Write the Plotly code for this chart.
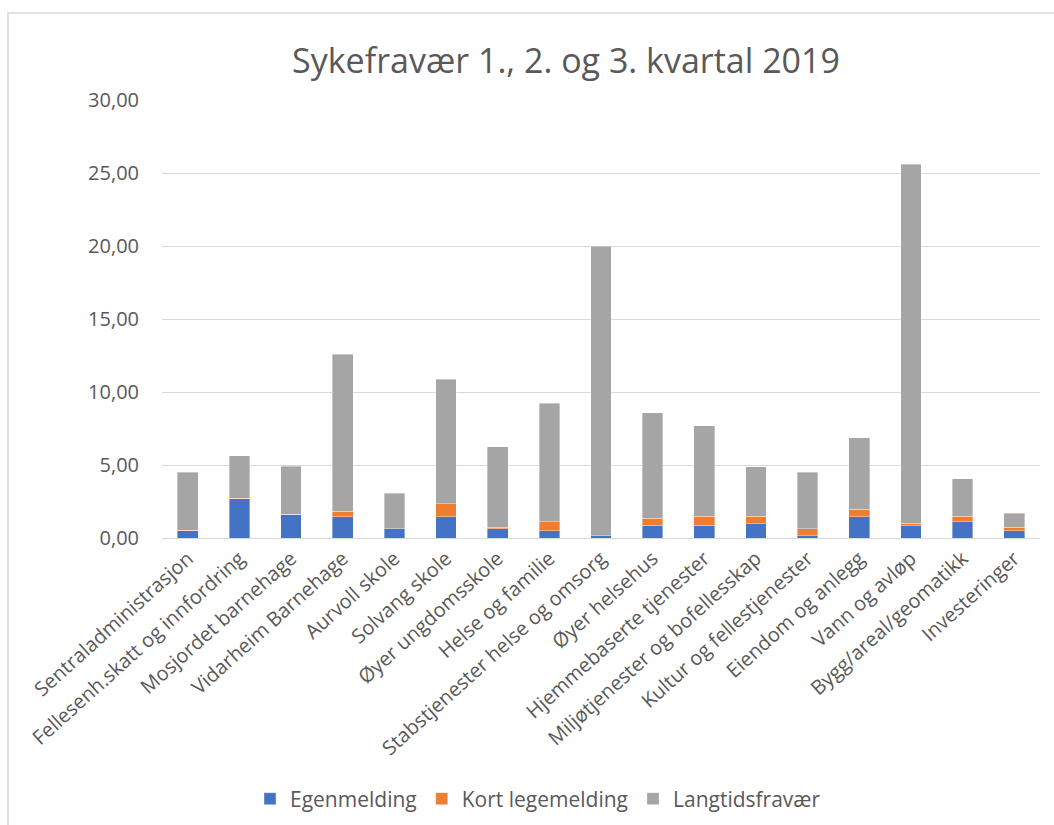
import plotly.graph_objects as go

categories = [
    "Sentraladministrasjon", "Fellesenh.skatt og innfordring", "Mosjordet barnehage",
    "Vidarheim Barnehage", "Aurvoll skole", "Solvang skole", "Øyer ungdomsskole",
    "Helse og familie", "Stabstjenester helse og omsorg", "Øyer helsehus",
    "Hjemmebaserte tjenester", "Miljøtjenester og bofellesskap", "Kultur og fellestjenester",
    "Eiendom og anlegg", "Vann og avløp", "Bygg/areal/geomatikk", "Investeringer",
]
egenmelding = [0.50, 2.69, 1.62, 1.46, 0.62, 1.46, 0.62, 0.50, 0.14, 0.87, 0.87, 0.98, 0.14, 1.46, 0.84, 1.10, 0.48]
kort_legemelding = [0.02, 0.02, 0.02, 0.37, 0.02, 0.87, 0.11, 0.62, 0.03, 0.48, 0.61, 0.50, 0.48, 0.50, 0.16, 0.38, 0.25]
langtidsfravaer = [4.00, 2.93, 3.27, 10.77, 2.42, 8.56, 5.52, 8.10, 19.83, 7.23, 6.21, 3.41, 3.90, 4.89, 24.60, 2.58, 0.98]

W, H = 1054, 825
L, R, T, B = 162, 14, 100, 287
pw, ph = W - L - R, H - T - B

def px(x):
    return (x - L) / pw

def py(y):
    return (H - B - y) / ph

font = "Open Sans, Segoe UI, sans-serif"
txt = "#595959"

fig = go.Figure()
for name, vals, col in [
    ("Egenmelding", egenmelding, "#4472C4"),
    ("Kort legemelding", kort_legemelding, "#ED7D31"),
    ("Langtidsfravær", langtidsfravaer, "#A5A5A5"),
]:
    fig.add_trace(go.Bar(x=categories, y=vals, name=name,
                         marker=dict(color=col, line=dict(color="rgba(255,255,255,0.6)", width=0.6))))

fig.update_layout(
    width=W, height=H,
    margin=dict(l=L, r=R, t=T, b=B, autoexpand=False),
    barmode="stack", bargap=0.6,
    paper_bgcolor="white", plot_bgcolor="white",
    separators=",.",
    font=dict(family=font, color=txt),
    title=dict(text="Sykefravær 1., 2. og 3. kvartal 2019", x=566 / W, xanchor="center",
               y=1 - 61 / H, yanchor="middle", font=dict(size=34, color=txt, family=font)),
    xaxis=dict(tickangle=-42, tickfont=dict(size=20, color=txt), showgrid=False,
               showline=True, linecolor="#D9D9D9", linewidth=1, ticks="",
               tickmode="linear", dtick=1, automargin=False),
    yaxis=dict(range=[0, 30], dtick=5, tickformat=".2f", tickfont=dict(size=20, color=txt),
               showgrid=True, gridcolor="#D9D9D9", gridwidth=1, zeroline=False,
               ticklabelstandoff=22, automargin=False),
    legend=dict(orientation="h", x=px(538), xanchor="center",
                y=py(799), yanchor="middle", font=dict(size=21, color=txt),
                traceorder="normal", itemwidth=30),
    showlegend=True,
    shapes=[dict(type="rect", xref="paper", yref="paper",
                 x0=px(8), x1=px(1060), y0=py(840), y1=py(13),
                 line=dict(color="#D9D9D9", width=1.5), fillcolor="rgba(0,0,0,0)", layer="below")],
)

fig.write_html("out.html")
